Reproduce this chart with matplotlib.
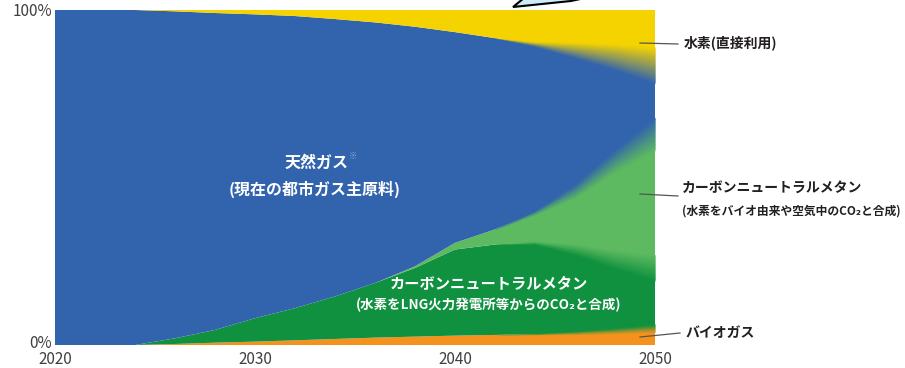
import numpy as np
import matplotlib
matplotlib.use('Agg')
import matplotlib.pyplot as plt
from matplotlib.colors import to_rgb
from matplotlib.patches import Polygon
from matplotlib.transforms import ScaledTranslation

plt.rcParams['font.family'] = ['Noto Sans CJK JP', 'DejaVu Sans']

# shares of city gas supply (%)
years = np.array([2020, 2022, 2024, 2026, 2028, 2030, 2032, 2034,
                  2036, 2038, 2040, 2042, 2044, 2046, 2048, 2050])
biogas = np.array([0, 0, 0, 0.3, 0.7, 1.0, 1.4, 1.8,
                   2.2, 2.5, 2.8, 3.0, 3.2, 3.6, 4.2, 5.0])
cn_methane_lng = np.array([0, 0, 0, 1.7, 3.8, 7.0, 9.6, 12.7,
                           16.3, 20.5, 25.7, 27.0, 27.3, 24.9, 21.3, 18.0])
cn_methane_air = np.array([0, 0, 0, 0, 0, 0, 0, 0,
                           0, 0.5, 2.0, 4.5, 9.0, 17.5, 29.5, 40.0])
natural_gas = np.array([100, 100, 100, 97.6, 94.6, 90.7, 87.2, 82.8,
                        77.8, 71.5, 62.9, 57.1, 50.3, 42.0, 31.0, 20.5])
hydrogen = 100 - (biogas + cn_methane_lng + cn_methane_air + natural_gas)

year_ticks = [2020, 2030, 2040, 2050]
pct_ticks = [0, 100]
pct_labels = ['0%', '100%']

C_ORANGE = '#f5921e'
C_DKGREEN = '#10913f'
C_LTGREEN = '#5dba60'
C_BLUE = '#3263ad'
C_YELLOW = '#f5d300'


def soft_edge(ax, x, y, w, c_low, c_high, n=16):
    # gradient band of half width w around boundary y
    lo, hi = np.array(to_rgb(c_low)), np.array(to_rgb(c_high))
    step = 2 * w / n
    for k in range(n):
        b = y - w + k * step
        t = b + step * (1.6 if k < n - 1 else 1.0)
        f = (k + 0.5) / n
        col = lo * (1 - f) + hi * f
        ax.fill_between(x, b, t, color=col, lw=0, antialiased=False)


fig = plt.figure(figsize=(9.05, 3.68), dpi=100)
ax = fig.add_axes([55 / 905, 23 / 368, 600 / 905, 335 / 368])

layers = [biogas, cn_methane_lng, cn_methane_air, natural_gas, hydrogen]
colors = [C_ORANGE, C_DKGREEN, C_LTGREEN, C_BLUE, C_YELLOW]
ax.stackplot(years, *layers, colors=colors, lw=0)

# blurred transitions towards 2050
fade = np.clip((years - 2043) / 7.0, 0, 1)
cum = np.cumsum(np.vstack(layers), axis=0)
soft_edge(ax, years, cum[0], 1.3 * fade, C_ORANGE, C_DKGREEN)
soft_edge(ax, years, cum[1], 4.0 * fade, C_DKGREEN, C_LTGREEN)
soft_edge(ax, years, cum[2], 5.0 * fade, C_LTGREEN, C_BLUE)
soft_edge(ax, years, cum[3], 5.5 * fade, C_BLUE, C_YELLOW)

ax.set_xlim(2020, 2049.97)
ax.set_ylim(0, 100)
for s in ax.spines.values():
    s.set_visible(False)
ax.set_xticks(year_ticks)
ax.set_xticklabels([str(y) for y in year_ticks])
ax.set_yticks(pct_ticks)
ax.set_yticklabels(pct_labels)
ax.tick_params(length=0, labelsize=11, colors='#404040', pad=2)
ax.tick_params(axis='x', pad=4)
zero_lab = ax.get_yticklabels()[0]
zero_lab.set_transform(zero_lab.get_transform() +
                       ScaledTranslation(0, 3 / 100, fig.dpi_scale_trans))

# labels inside the chart
ax.text(2033.1, 54.5, '天然ガス', color='white', fontsize=11.5,
        fontweight='bold', ha='center', va='center')
ax.text(2034.9, 56.2, '※', color='#8fa8d8', fontsize=6,
        ha='center', va='center')
ax.text(2033.0, 46.5, '(現在の都市ガス主原料)', color='white', fontsize=11.5,
        fontweight='bold', ha='center', va='center')
ax.text(2041.7, 18.5, 'カーボンニュートラルメタン', color='white', fontsize=11,
        fontweight='bold', ha='center', va='center')
ax.text(2041.7, 12.0, '(水素をLNG火力発電所等からのCO₂と合成)', color='white',
        fontsize=9.7, fontweight='bold', ha='center', va='center')

# right-hand labels with leader lines
fig.add_artist(plt.Line2D([640 / 905, 678 / 905], [1 - 43 / 368, 1 - 44 / 368],
                          color='#555555', lw=0.9))
fig.add_artist(plt.Line2D([640 / 905, 678 / 905], [1 - 194 / 368, 1 - 196 / 368],
                          color='#555555', lw=0.9))
fig.add_artist(plt.Line2D([640 / 905, 680 / 905], [1 - 337 / 368, 1 - 333 / 368],
                          color='#555555', lw=0.9))
fig.text(684 / 905, 1 - 43 / 368, '水素(直接利用)', color='#231f20',
         fontsize=10, fontweight='bold', va='center')
fig.text(682 / 905, 1 - 188 / 368, 'カーボンニュートラルメタン', color='#231f20',
         fontsize=10, fontweight='bold', va='center')
fig.text(682 / 905, 1 - 211 / 368, '(水素をバイオ由来や空気中のCO₂と合成)',
         color='#231f20', fontsize=8.5, fontweight='bold', va='center')
fig.text(685 / 905, 1 - 333 / 368, 'バイオガス', color='#231f20',
         fontsize=10, fontweight='bold', va='center')

# edge of a callout bubble cut off at the top
pts = np.array([[513, 7], [524, -2], [585, -2], [571, 1]], dtype=float)
pts[:, 0] /= 905
pts[:, 1] = 1 - pts[:, 1] / 368
fig.add_artist(Polygon(pts, closed=True, fc='#cfeaf8', ec='black', lw=1.5,
                       transform=fig.transFigure, clip_on=False))

fig.savefig('out.png', dpi=100)
